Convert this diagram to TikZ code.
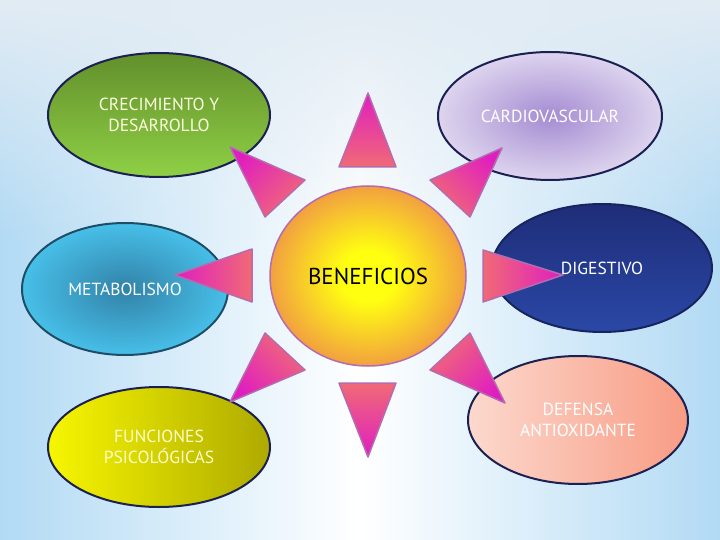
\documentclass[tikz,border=0pt]{standalone}
\usepackage{fontspec}
\setmainfont{PT Sans}
\usetikzlibrary{shapes.geometric,fadings}
\definecolor{bgside}{HTML}{B2DAF4}
\definecolor{bgtop}{HTML}{E2ECF4}
\definecolor{rimdark}{HTML}{1B1F52}
\definecolor{spiketip}{HTML}{E01EC0}
\definecolor{spikebase}{HTML}{F06A76}
\definecolor{spikerim}{HTML}{B46CB0}
\definecolor{greentop}{HTML}{628F2C}
\definecolor{greenbot}{HTML}{8FD045}
\definecolor{lilacin}{HTML}{A58CD2}
\definecolor{lilacout}{HTML}{DDD4EE}
\definecolor{tealin}{HTML}{3282A8}
\definecolor{tealout}{HTML}{47BFE8}
\definecolor{navytop}{HTML}{1E2D78}
\definecolor{navybot}{HTML}{2A48A6}
\definecolor{lemonl}{HTML}{F7F600}
\definecolor{lemonr}{HTML}{AEAA00}
\definecolor{peachl}{HTML}{FCD9CE}
\definecolor{peachr}{HTML}{F89C84}
\definecolor{sunin}{HTML}{FFFF10}
\definecolor{sunout}{HTML}{F2A040}
\pgfdeclareradialshading{sunshade}{\pgfpoint{0bp}{0bp}}{color(0bp)=(sunin);
  color(7bp)=(sunin); color(25bp)=(sunout); color(50bp)=(sunout)}
\begin{document}
\begin{tikzpicture}
[
x=1pt,y=-1pt,
bubble/.style 2 args={draw=rimdark,line width=2pt,ellipse,inner sep=0pt,
            minimum width=#1,minimum height=#2,align=center,
            font=\fontsize{17.5}{21}\selectfont},
spike/.style={draw=spikerim,line width=1.5pt,line join=round,
            top color=spiketip,bottom color=spikebase},
]
\useasboundingbox (0,0) rectangle (720,540);
%Background
\shade[left color=bgside,right color=bgside,middle color=white] (0,0) rectangle (720,540);
\fill[bgtop,path fading=south] (0,0) rectangle (720,240);

%Place the nodes
\node[bubble={222pt}{124pt},top color=greentop,bottom color=greenbot,
      text=yellow!12!white] (crec) at (159,115) {CRECIMIENTO Y\\DESARROLLO};
\node[bubble={224pt}{128pt},inner color=lilacin,outer color=lilacout,
      text=white] (cardio) at (550,116) {CARDIOVASCULAR};
\node[bubble={206pt}{132pt},draw=tealin!60!black,inner color=tealin,
      outer color=tealout,text=white] (meta) at (125,289) {METABOLISMO};
\node[bubble={220pt}{128pt},draw=navytop!80!black,top color=navytop,
      bottom color=navybot,text=white] (dige) at (602,268) {DIGESTIVO};
\node[bubble={222pt}{120pt},left color=lemonl,right color=lemonr,
      text=yellow!20!white] (psico) at (159,447) {FUNCIONES\\PSICOLÓGICAS};
\node[bubble={220pt}{128pt},left color=peachl,right color=peachr,
      text=white] (antiox) at (578,420) {DEFENSA\\ANTIOXIDANTE};
\node[draw=spikerim,line width=1.5pt,ellipse,minimum width=196pt,minimum height=180pt,
      shading=sunshade,font=\fontsize{23}{26}\selectfont] (benef) at (368,276) {BENEFICIOS};

%Draw the spikes
\shade[spike,shading angle=0] (339,167) -- (368,93) -- (396,167) -- cycle;
\shade[spike,shading angle=45] (305,180) -- (230,147) -- (265,217) -- cycle;
\shade[spike,shading angle=315] (430,180) -- (502,148) -- (470,217) -- cycle;
\shade[spike,shading angle=90] (252,249) -- (175,275) -- (252,302) -- cycle;
\shade[spike,shading angle=270] (483,250) -- (563,275) -- (483,302) -- cycle;
\shade[spike,shading angle=135] (265,333) -- (230,402) -- (305,370) -- cycle;
\shade[spike,shading angle=225] (430,370) -- (505,403) -- (470,333) -- cycle;
\shade[spike,shading angle=180] (339,383) -- (368,457) -- (396,383) -- cycle;
\end{tikzpicture}
\end{document}
